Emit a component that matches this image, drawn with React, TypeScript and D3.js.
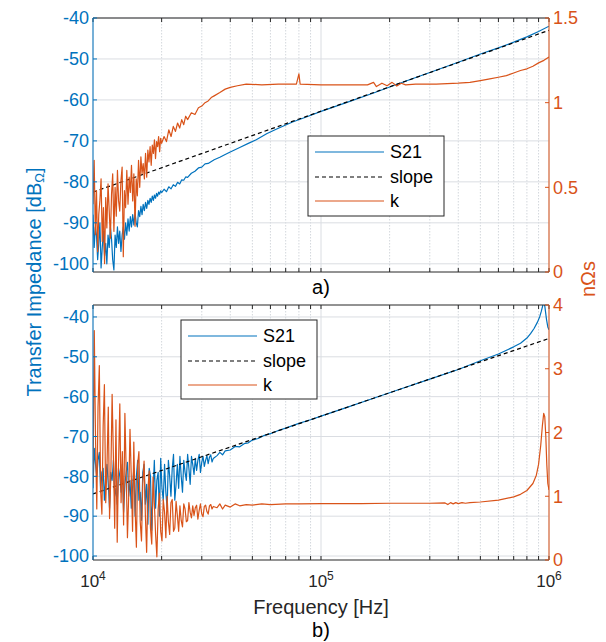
import React from "react";
import * as d3 from "d3";

const BLUE = "#0072BD";
const ORANGE = "#D95319";
const AXIS = "#262626";
const FONT = "'Liberation Sans', Arial, Helvetica, sans-serif";

// ---------- axes / labels ----------
const xDomain = [1e4, 1e6];
const xTickExponents = ["4", "5", "6"];
const yTicksA = [-100, -90, -80, -70, -60, -50, -40];
const kTicksA = [0, 0.5, 1, 1.5];
const kTickLabelsA = ["0", "0.5", "1", "1.5"];
const yTicksB = [-100, -90, -80, -70, -60, -50, -40];
const kTicksB = [0, 1, 2, 3, 4];
const kTickLabelsB = ["0", "1", "2", "3", "4"];
const legendLabels = ["S21", "slope", "k"];

// ---------- panel a) data (frequencies in kHz) ----------
const slopeA: [number, number][] = [[10, -82.5], [1000, -43]];
const freqNoiseA = [
  10.0, 10.12, 10.24, 10.36, 10.48, 10.6, 10.72, 10.85, 10.98, 11.11,
  11.24, 11.37, 11.5, 11.64, 11.78, 11.92, 12.06, 12.2, 12.35, 12.5,
  12.65, 12.8, 12.95, 13.1, 13.26, 13.42, 13.58, 13.74, 13.9, 14.07,
  14.24, 14.41, 14.58, 14.75, 14.93, 15.11, 15.29, 15.47, 15.65, 15.84,
  16.03, 16.22, 16.41, 16.6, 16.8, 17.0, 17.2, 17.4, 17.6, 17.8,
  18.0, 18.2, 18.4, 18.6, 18.8, 19.0, 19.2, 19.4, 19.6, 19.8, 20.0,
];
const s21NoiseA = [
  -88, -96, -91, -93, -99, -95, -90, -101, -96, -92,
  -98, -95, -100, -93, -96, -91, -94, -99, -101.5, -93,
  -96, -91, -95, -92, -97, -93, -91, -94, -90, -93,
  -89, -92, -88.5, -91, -88, -90.5, -87.5, -90, -91, -87,
  -88.5, -86, -88, -85.5, -87, -85, -86.5, -84.5, -85.5, -84,
  -85, -83.5, -84.5, -83.2, -84, -82.8, -83.5, -82.5, -83, -82.2, -82.6,
];
const kNoiseA = [
  0.4, 0.66, 0.22, 0.48, 0.12, 0.34, 0.42, 0.55, 0.18, 0.38,
  0.05, 0.44, 0.26, 0.52, 0.36, 0.2, 0.46, 0.58, 0.24, 0.5,
  0.33, 0.6, 0.42, 0.36, 0.54, 0.62, 0.09, 0.48, 0.38, 0.6,
  0.4, 0.56, 0.47, 0.63, 0.42, 0.58, 0.27, 0.55, 0.45, 0.66,
  0.5, 0.68, 0.58, 0.64, 0.55, 0.7, 0.56, 0.72, 0.65, 0.74,
  0.63, 0.75, 0.7, 0.78, 0.67, 0.77, 0.74, 0.8, 0.71, 0.79, 0.76,
];
const s21SmoothA: [number, number][] = [
  [20.5, -81.8], [21, -82.4], [21.5, -81.2], [22, -81.7], [22.5, -80.7], [23, -81.1],
  [23.5, -80.1], [24, -80.5], [24.5, -79.5], [25, -79.6], [25.5, -78.8], [26, -78.9],
  [27, -77.9], [28, -77.4], [29, -76.6], [30, -76.4], [31, -75.6], [32, -75.5],
  [34, -74.6], [36, -74.0], [38, -73.3], [40, -72.7], [44, -71.6], [48, -70.6],
  [52, -69.7], [58, -68.2], [65, -66.9], [75, -65.4], [85, -64.3], [100, -62.8],
  [130, -60.6], [170, -58.3], [220, -56.0], [300, -53.3], [400, -50.8], [500, -48.8],
  [600, -47.3], [700, -45.9], [800, -44.6], [900, -43.3], [1000, -42.0],
];
const kSmoothA: [number, number][] = [
  [20.5, 0.8], [21, 0.77], [21.5, 0.84], [22, 0.8], [22.5, 0.86], [23, 0.83],
  [23.5, 0.88], [24, 0.85], [24.5, 0.9], [25, 0.87], [25.5, 0.92], [26, 0.9],
  [27, 0.94], [28, 0.93], [29, 0.97], [30, 0.98], [31, 1.0], [32, 1.01],
  [33, 1.03], [34, 1.04], [36, 1.06], [38, 1.08], [40, 1.09], [43, 1.1],
  [47, 1.11], [55, 1.105], [65, 1.11], [78, 1.11], [80, 1.17], [81, 1.11],
  [100, 1.105], [140, 1.105], [160, 1.105], [170, 1.12], [175, 1.095], [185, 1.115],
  [195, 1.1], [205, 1.12], [215, 1.098], [225, 1.115], [235, 1.105], [260, 1.11],
  [320, 1.11], [400, 1.115], [450, 1.12], [500, 1.13], [550, 1.14], [600, 1.15],
  [650, 1.16], [700, 1.175], [750, 1.19], [800, 1.2], [850, 1.215], [900, 1.235],
  [950, 1.25], [1000, 1.27],
];

// ---------- panel b) data (frequencies in kHz) ----------
const slopeB: [number, number][] = [[10, -84.4], [1000, -45.4]];
const freqNoiseB = [
  10.0, 10.13, 10.26, 10.39, 10.52, 10.66, 10.8, 10.94, 11.08, 11.22,
  11.37, 11.52, 11.67, 11.82, 11.97, 12.13, 12.29, 12.45, 12.61, 12.77,
  12.94, 13.11, 13.28, 13.45, 13.62, 13.8, 13.98, 14.16, 14.34, 14.53,
  14.72, 14.91, 15.1, 15.3, 15.5, 15.7, 15.9, 16.11, 16.32, 16.53,
  16.75, 16.97, 17.19, 17.41, 17.64, 17.87, 18.1, 18.34, 18.58, 18.82,
  19.06, 19.31, 19.56, 19.81, 20.07, 20.33, 20.6, 20.87, 21.14, 21.41,
  21.69, 21.97, 22.26, 22.55, 22.84, 23.14, 23.44, 23.75, 24.06, 24.37,
  24.69, 25.01, 25.34, 25.67, 26.0, 26.34, 26.68, 27.03, 27.38, 27.74,
  28.1, 28.47, 28.84, 29.22, 29.6, 29.99, 30.38, 30.78, 31.18, 31.59,
  32.0, 32.42, 32.84, 33.27, 33.7,
];
const s21NoiseB = [
  -83, -73, -77, -80, -76, -74, -84, -79, -78, -86,
  -80, -77, -82, -88, -79, -81, -76, -85, -83, -87,
  -78, -80, -84, -77, -89, -82, -79, -76.5, -85, -81,
  -88, -83, -78, -90, -80, -76, -86, -84, -91, -79,
  -77, -87, -82, -92, -78, -80, -93.5, -84, -76, -88,
  -81, -79, -90, -75.5, -83, -86, -77, -84, -88, -76,
  -80, -85, -78, -74.5, -86, -82, -77, -83, -75, -80,
  -84, -76, -79, -81, -74.5, -78, -82, -75, -77, -79.5,
  -75.5, -78.5, -76, -74.5, -79, -76.5, -75, -77.5, -76, -74.8,
  -76.8, -75.2, -74.6, -76.4, -75.5,
];
const kNoiseB = [
  1.2, 3.6, 1.9, 0.8, 2.4, 3.05, 1.1, 0.72, 2.1, 2.75,
  0.9, 1.5, 2.4, 0.65, 1.3, 2.6, 1.6, 0.5, 2.2, 0.28,
  1.5, 2.45, 0.9, 1.7, 0.55, 2.3, 1.4, 0.35, 1.0, 2.05,
  1.3, 0.45, 1.85, 0.8, 0.2, 1.5, 1.7, 0.6, 0.3, 1.2,
  1.55, 0.7, 0.12, 1.1, 1.4, 0.5, 0.25, 1.3, 0.9, 0.4,
  0.05, 0.8, 1.05, 0.45, 0.3, 0.95, 0.75, 0.35, 1.0, 0.6,
  0.4, 0.9, 0.95, 0.45, 0.5, 0.92, 0.7, 0.45, 0.85, 0.62,
  0.52, 0.88, 0.8, 0.6, 0.62, 0.9, 0.75, 0.66, 0.85, 0.7,
  0.82, 0.86, 0.64, 0.78, 0.88, 0.72, 0.68, 0.84, 0.86, 0.76,
  0.72, 0.85, 0.87, 0.8, 0.84,
];
const s21SmoothB: [number, number][] = [
  [35, -74.8], [36, -74.0], [37, -74.6], [38, -73.6], [40, -73.4], [42, -72.5],
  [44, -72.6], [46, -71.8], [48, -71.6], [50, -70.9], [53, -70.5], [56, -69.8],
  [60, -69.3], [65, -68.5], [70, -67.9], [80, -66.7], [90, -65.8], [100, -64.9],
  [130, -62.7], [170, -60.4], [220, -58.2], [300, -55.6], [400, -53.2], [500, -51.0],
  [600, -49.3], [700, -47.5], [750, -46.6], [800, -45.3], [830, -44.2], [860, -42.9],
  [890, -41.3], [910, -40.0], [925, -38.6], [940, -37.0], [948, -36.3], [956, -36.8],
  [965, -38.6], [975, -40.6], [988, -42.5], [1000, -43.2],
];
const kSmoothB: [number, number][] = [
  [35, 0.82], [36, 0.88], [37, 0.8], [38, 0.86], [40, 0.83], [42, 0.88],
  [44, 0.85], [47, 0.87], [50, 0.86], [55, 0.88], [60, 0.87], [70, 0.88],
  [80, 0.88], [100, 0.885], [150, 0.885], [200, 0.89], [300, 0.89], [350, 0.895],
  [360, 0.87], [370, 0.9], [380, 0.88], [390, 0.9], [400, 0.885], [415, 0.9],
  [430, 0.89], [450, 0.9], [500, 0.91], [600, 0.94], [700, 0.99], [750, 1.03],
  [800, 1.09], [850, 1.2], [880, 1.33], [900, 1.5], [920, 1.8], [935, 2.1],
  [948, 2.3], [958, 2.25], [968, 1.95], [978, 1.5], [988, 1.2], [1000, 1.1],
];

type Pt = [number, number];
const joinSeries = (freqs: number[], vals: number[], rest: Pt[]): Pt[] => [
  ...freqs.map((f, i) => [f * 1000, vals[i]] as Pt),
  ...rest.map(([f, v]) => [f * 1000, v] as Pt),
];
const toHz = (pts: Pt[]): Pt[] => pts.map(([f, v]) => [f * 1000, v] as Pt);

const L = 93;
const R = 549;

interface PanelProps {
  id: string;
  top: number;
  bottom: number;
  yDomain: [number, number];
  kDomain: [number, number];
  yTicks: number[];
  kTicks: number[];
  kLabels: string[];
  s21: Pt[];
  slope: Pt[];
  k: Pt[];
  legend: { x: number; y: number; w: number; h: number };
  showX: boolean;
}

function Panel(p: PanelProps) {
  const x = d3.scaleLog().domain(xDomain).range([L, R]);
  const y = d3.scaleLinear().domain(p.yDomain).range([p.bottom, p.top]);
  const yk = d3.scaleLinear().domain(p.kDomain).range([p.bottom, p.top]);
  const xt = x.ticks();
  const isMajor = (t: number) => Math.abs(Math.log10(t) - Math.round(Math.log10(t))) < 1e-9;
  const lineY = d3.line<Pt>().x((d) => x(d[0])).y((d) => y(d[1]));
  const lineK = d3.line<Pt>().x((d) => x(d[0])).y((d) => yk(d[1]));
  const tl = 4;
  const rowY = [16, 41, 65];
  return (
    <g>
      <defs>
        <clipPath id={`clip-${p.id}`}>
          <rect x={L} y={p.top} width={R - L} height={p.bottom - p.top} />
        </clipPath>
      </defs>
      {xt.map((t, i) => (
        <line key={"gx" + i} x1={x(t)} x2={x(t)} y1={p.top} y2={p.bottom}
          stroke={isMajor(t) ? "#dadde2" : "#d3d7dc"} strokeWidth={1}
          strokeDasharray={isMajor(t) ? undefined : "1.5,1.5"} />
      ))}
      {p.yTicks.map((t, i) => (
        <line key={"gy" + i} x1={L} x2={R} y1={y(t)} y2={y(t)} stroke="#dadde2" strokeWidth={1} />
      ))}
      <g clipPath={`url(#clip-${p.id})`} fill="none">
        <path d={lineY(p.s21) || ""} stroke={BLUE} strokeWidth={1.2} strokeLinejoin="round" />
        <path d={lineY(p.slope) || ""} stroke="#000" strokeWidth={1.2} strokeDasharray="4,3" />
        <path d={lineK(p.k) || ""} stroke={ORANGE} strokeWidth={1.2} strokeLinejoin="round" />
      </g>
      {xt.map((t, i) => (
        <g key={"tx" + i}>
          <line x1={x(t)} x2={x(t)} y1={p.bottom} y2={p.bottom - tl} stroke={AXIS} strokeWidth={1} />
          <line x1={x(t)} x2={x(t)} y1={p.top} y2={p.top + tl} stroke={AXIS} strokeWidth={1} />
        </g>
      ))}
      <line x1={L} x2={R} y1={p.top} y2={p.top} stroke={AXIS} strokeWidth={1} />
      <line x1={L} x2={R} y1={p.bottom} y2={p.bottom} stroke={AXIS} strokeWidth={1} />
      <line x1={L} x2={L} y1={p.top} y2={p.bottom} stroke={BLUE} strokeWidth={1} />
      <line x1={R} x2={R} y1={p.top} y2={p.bottom} stroke={ORANGE} strokeWidth={1} />
      {p.yTicks.map((t, i) => (
        <g key={"ly" + i}>
          <line x1={L} x2={L + tl} y1={y(t)} y2={y(t)} stroke={BLUE} strokeWidth={1} />
          <text x={L - 4} y={y(t)} dy="0.35em" textAnchor="end" fontSize={18} fill={BLUE}>{t}</text>
        </g>
      ))}
      {p.kTicks.map((t, i) => (
        <g key={"ry" + i}>
          <line x1={R} x2={R - tl} y1={yk(t)} y2={yk(t)} stroke={ORANGE} strokeWidth={1} />
          <text x={R + 4} y={yk(t)} dy="0.35em" textAnchor="start" fontSize={18} fill={ORANGE}>{p.kLabels[i]}</text>
        </g>
      ))}
      {p.showX && xTickExponents.map((e, i) => (
        <text key={"xl" + i} x={x(Math.pow(10, +e))} y={p.bottom + 27} textAnchor="middle" fontSize={17} fill={AXIS}>
          10<tspan dy={-7} fontSize={12}>{e}</tspan>
        </text>
      ))}
      <g transform={`translate(${p.legend.x},${p.legend.y})`}>
        <rect width={p.legend.w} height={p.legend.h} fill="#fff" stroke={AXIS} strokeWidth={1} />
        <line x1={7} x2={76} y1={rowY[0]} y2={rowY[0]} stroke={BLUE} strokeWidth={1.2} />
        <line x1={7} x2={76} y1={rowY[1]} y2={rowY[1]} stroke="#000" strokeWidth={1.2} strokeDasharray="4,3" />
        <line x1={7} x2={76} y1={rowY[2]} y2={rowY[2]} stroke={ORANGE} strokeWidth={1.2} />
        {legendLabels.map((s, i) => (
          <text key={s} x={82} y={rowY[i]} dy="0.35em" fontSize={18} fill="#000">{s}</text>
        ))}
      </g>
    </g>
  );
}

export default function App() {
  const s21A = joinSeries(freqNoiseA, s21NoiseA, s21SmoothA);
  const kA = joinSeries(freqNoiseA, kNoiseA, kSmoothA);
  const s21B = joinSeries(freqNoiseB, s21NoiseB, s21SmoothB);
  const kB = joinSeries(freqNoiseB, kNoiseB, kSmoothB);
  return (
    <svg width={606} height={642} style={{ position: "absolute", left: 0, top: 0, background: "#fff" }}
      fontFamily={FONT}>
      <rect width={606} height={642} fill="#fff" />
      <Panel id="a" top={18} bottom={272} yDomain={[-102, -40]} kDomain={[0, 1.5]}
        yTicks={yTicksA} kTicks={kTicksA} kLabels={kTickLabelsA}
        s21={s21A} slope={toHz(slopeA)} k={kA}
        legend={{ x: 308, y: 136, w: 136, h: 80 }} showX={false} />
      <Panel id="b" top={305} bottom={560} yDomain={[-101, -37]} kDomain={[0, 4]}
        yTicks={yTicksB} kTicks={kTicksB} kLabels={kTickLabelsB}
        s21={s21B} slope={toHz(slopeB)} k={kB}
        legend={{ x: 181, y: 320, w: 136, h: 79 }} showX={true} />
      <text x={321} y={294} textAnchor="middle" fontSize={20} fill="#000">a)</text>
      <text x={321} y={614} textAnchor="middle" fontSize={20} fill={AXIS}>Frequency [Hz]</text>
      <text x={321} y={637} textAnchor="middle" fontSize={20} fill="#000">b)</text>
      <text transform="translate(34,282) rotate(-90)" textAnchor="middle" dy="0.35em" fontSize={20} fill={BLUE}>
        Transfer Impedance [dB<tspan fontSize={13} dy={3}>Ω</tspan><tspan dy={-3}>]</tspan>
      </text>
      <text transform="translate(588,279) rotate(-90)" textAnchor="middle" dy="0.35em" fontSize={20} fill={ORANGE}>
        nΩs
      </text>
    </svg>
  );
}
